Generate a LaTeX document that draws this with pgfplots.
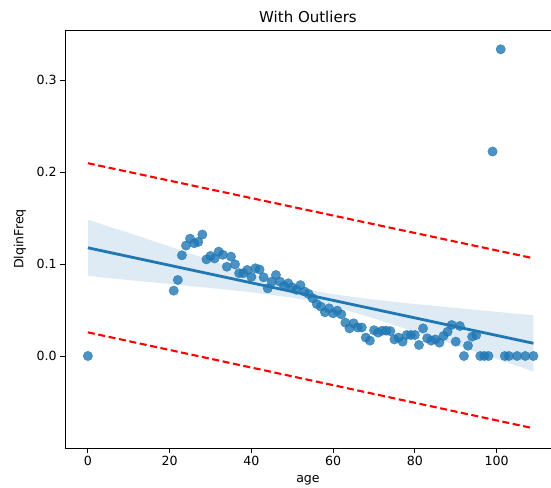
\documentclass[border=0pt]{standalone}
\usepackage{fontspec}
\setmainfont{DejaVu Sans}
\usepackage{pgfplots}
\pgfplotsset{compat=1.18}
\usepackage{pgfplotstable}

\definecolor{sbblue}{HTML}{1F77B4}

% age, DlqinFreq
\pgfplotstableread{
age  freq
0    0.0
21   0.071
22   0.0826
23   0.1094
24   0.120
25   0.1275
26   0.1225
27   0.124
28   0.132
29   0.105
30   0.1087
31   0.106
32   0.1134
33   0.110
34   0.097
35   0.108
36   0.0996
37   0.090
38   0.090
39   0.0935
40   0.086
41   0.0953
42   0.094
43   0.0855
44   0.0735
45   0.0808
46   0.088
47   0.0808
48   0.076
49   0.079
50   0.0746
51   0.072
52   0.077
53   0.070
54   0.0674
55   0.0627
56   0.0565
57   0.0536
58   0.0475
59   0.0518
60   0.0464
61   0.0493
62   0.0453
63   0.0362
64   0.030
65   0.0355
66   0.031
67   0.031
68   0.020
69   0.0167
70   0.028
71   0.0254
72   0.0275
73   0.0275
74   0.027
75   0.018
76   0.020
77   0.0156
78   0.0228
79   0.0228
80   0.0228
81   0.012
82   0.030
83   0.0192
84   0.0167
85   0.018
86   0.0145
87   0.0217
88   0.0264
89   0.0337
90   0.0156
91   0.0326
92   0.0
93   0.0112
94   0.021
95   0.0228
96   0.0
97   0.0
98   0.0
99   0.2222
101  0.3333
102  0.0
103  0.0
105  0.0
107  0.0
109  0.0
}\points

\begin{document}
\begin{tikzpicture}
\begin{axis}[
    name=ax,
    scale only axis,
    width=486bp, height=418bp,
    xmin=-5.6, xmax=113.3,
    ymin=-0.1, ymax=0.3543,
    axis x line*=box,
    axis y line*=left,
    xtick pos=bottom,
    xtick={0,20,40,60,80,100},
    ytick={0,0.1,0.2,0.3},
    yticklabel style={/pgf/number format/.cd,fixed,fixed zerofill,precision=1},
    tick align=outside,
    major tick length=4.8bp,
    tick style={black, line width=0.8bp},
    axis line style={black, line width=0.9bp},
    /pgf/number format/assume math mode=true,
    tick label style={font=\fontsize{12.6bp}{15bp}\selectfont},
    title={With Outliers},
    xlabel={age},
    ylabel={DlqinFreq},
    every axis title/.style={at={(rel axis cs:0.5,1)}, anchor=center, yshift=13bp,
        font=\fontsize{15bp}{18bp}\selectfont},
    every axis x label/.style={at={(rel axis cs:0.5,0)}, anchor=center, yshift=-32.5bp,
        font=\fontsize{12.6bp}{15bp}\selectfont},
    every axis y label/.style={at={(rel axis cs:0,0.5)}, xshift=-45bp, anchor=center, rotate=90,
        font=\fontsize{12.6bp}{15bp}\selectfont},
    clip=true,
]
% confidence band
\addplot[draw=none, fill=sbblue, fill opacity=0.15] coordinates {
    (0,0.1481) (10,0.1337) (20,0.1189) (30,0.1041) (40,0.0897) (50,0.0766)
    (55,0.0712) (60,0.0671) (70,0.0612) (80,0.0565) (90,0.0522) (100,0.0480)
    (109,0.0443)
    (109,-0.0167) (100,-0.0032) (90,0.0116) (80,0.0263) (70,0.0408) (60,0.0539)
    (55,0.0592) (50,0.0634) (40,0.0693) (30,0.0739) (20,0.0783) (10,0.0825)
    (0,0.0871)
} -- cycle;
% scatter
\addplot[only marks, mark=*, mark size=4.7bp,
    mark options={draw=sbblue, fill=sbblue, opacity=0.8, line width=0.4bp}]
    table[x=age, y=freq] {\points};
% regression line
\addplot[sbblue, line width=2.8bp] coordinates {(0,0.1176) (109,0.0138)};
% prediction bounds
\addplot[red, line width=2.1bp, dash pattern=on 7bp off 3.6bp] coordinates {(0,0.2095) (109,0.1062)};
\addplot[red, line width=2.1bp, dash pattern=on 7bp off 3.6bp] coordinates {(0,0.0257) (109,-0.0786)};
\end{axis}
\pgfresetboundingbox
\path ([shift={(-65bp,-40bp)}]ax.south west) rectangle ([shift={(0bp,30bp)}]ax.north east);
\end{tikzpicture}
\end{document}
